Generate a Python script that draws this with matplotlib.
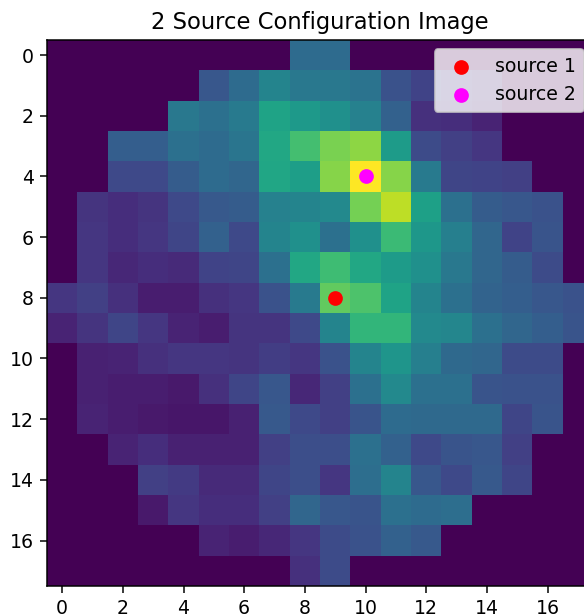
import matplotlib
matplotlib.use("Agg")
import matplotlib.pyplot as plt
import numpy as np

# normalised intensity per pixel (rows top to bottom)
image = np.array([
    [0, 0, 0, 0, 0, 0, 0, 0, 0.35, 0.35, 0, 0, 0, 0, 0, 0, 0, 0],
    [0, 0, 0, 0, 0, 0.27, 0.35, 0.45, 0.40, 0.40, 0.38, 0.25, 0.20, 0.15, 0.12, 0, 0, 0],
    [0, 0, 0, 0, 0.40, 0.37, 0.41, 0.58, 0.54, 0.50, 0.44, 0.31, 0.14, 0.13, 0.10, 0, 0, 0],
    [0, 0, 0.30, 0.30, 0.37, 0.35, 0.39, 0.60, 0.70, 0.80, 0.83, 0.55, 0.23, 0.19, 0.16, 0, 0, 0],
    [0, 0, 0.22, 0.22, 0.29, 0.35, 0.33, 0.59, 0.56, 0.82, 1.00, 0.82, 0.41, 0.21, 0.20, 0.19, 0, 0],
    [0, 0.15, 0.13, 0.15, 0.22, 0.28, 0.29, 0.44, 0.45, 0.47, 0.79, 0.90, 0.57, 0.37, 0.29, 0.27, 0.25, 0],
    [0, 0.16, 0.13, 0.16, 0.21, 0.31, 0.22, 0.45, 0.50, 0.37, 0.50, 0.68, 0.53, 0.43, 0.33, 0.20, 0.26, 0],
    [0, 0.16, 0.11, 0.13, 0.12, 0.20, 0.21, 0.37, 0.60, 0.69, 0.60, 0.55, 0.50, 0.40, 0.33, 0.29, 0.23, 0],
    [0.16, 0.19, 0.14, 0.08, 0.08, 0.14, 0.16, 0.25, 0.41, 0.76, 0.72, 0.58, 0.45, 0.37, 0.32, 0.30, 0.27, 0.25],
    [0.10, 0.15, 0.21, 0.16, 0.10, 0.08, 0.15, 0.15, 0.22, 0.45, 0.66, 0.66, 0.47, 0.46, 0.37, 0.33, 0.30, 0.26],
    [0, 0.09, 0.10, 0.14, 0.16, 0.16, 0.15, 0.18, 0.16, 0.25, 0.45, 0.52, 0.43, 0.34, 0.33, 0.23, 0.23, 0],
    [0, 0.09, 0.08, 0.08, 0.07, 0.14, 0.21, 0.27, 0.11, 0.19, 0.37, 0.47, 0.37, 0.37, 0.26, 0.25, 0.25, 0],
    [0, 0.10, 0.08, 0.07, 0.06, 0.06, 0.09, 0.28, 0.22, 0.19, 0.26, 0.35, 0.34, 0.34, 0.34, 0.21, 0.26, 0],
    [0, 0, 0.10, 0.13, 0.09, 0.09, 0.09, 0.19, 0.24, 0.24, 0.37, 0.31, 0.22, 0.26, 0.27, 0.19, 0, 0],
    [0, 0, 0, 0.19, 0.17, 0.12, 0.12, 0.21, 0.24, 0.16, 0.36, 0.45, 0.27, 0.22, 0.28, 0.21, 0, 0],
    [0, 0, 0, 0.07, 0.16, 0.13, 0.13, 0.19, 0.33, 0.27, 0.26, 0.37, 0.35, 0.36, 0, 0, 0, 0],
    [0, 0, 0, 0, 0, 0.10, 0.08, 0.11, 0.16, 0.23, 0.25, 0.31, 0.28, 0, 0, 0, 0, 0],
    [0, 0, 0, 0, 0, 0, 0, 0, 0.14, 0.23, 0, 0, 0, 0, 0, 0, 0, 0],
])

source1 = (9, 8)
source2 = (10, 4)

dpi = 136
fig = plt.figure(figsize=(584 / dpi, 616 / dpi), dpi=dpi)
ax = fig.add_axes([47 / 584, 30 / 616, 546 / 584, 546 / 616])

ax.imshow(image, cmap='viridis')
ax.scatter(*source1, color='red', s=46, label='source 1')
ax.scatter(*source2, color='magenta', s=46, label='source 2')
ax.legend(loc='upper right')
ax.set_title('2 Source Configuration Image')

fig.savefig('out.png', dpi=dpi)
